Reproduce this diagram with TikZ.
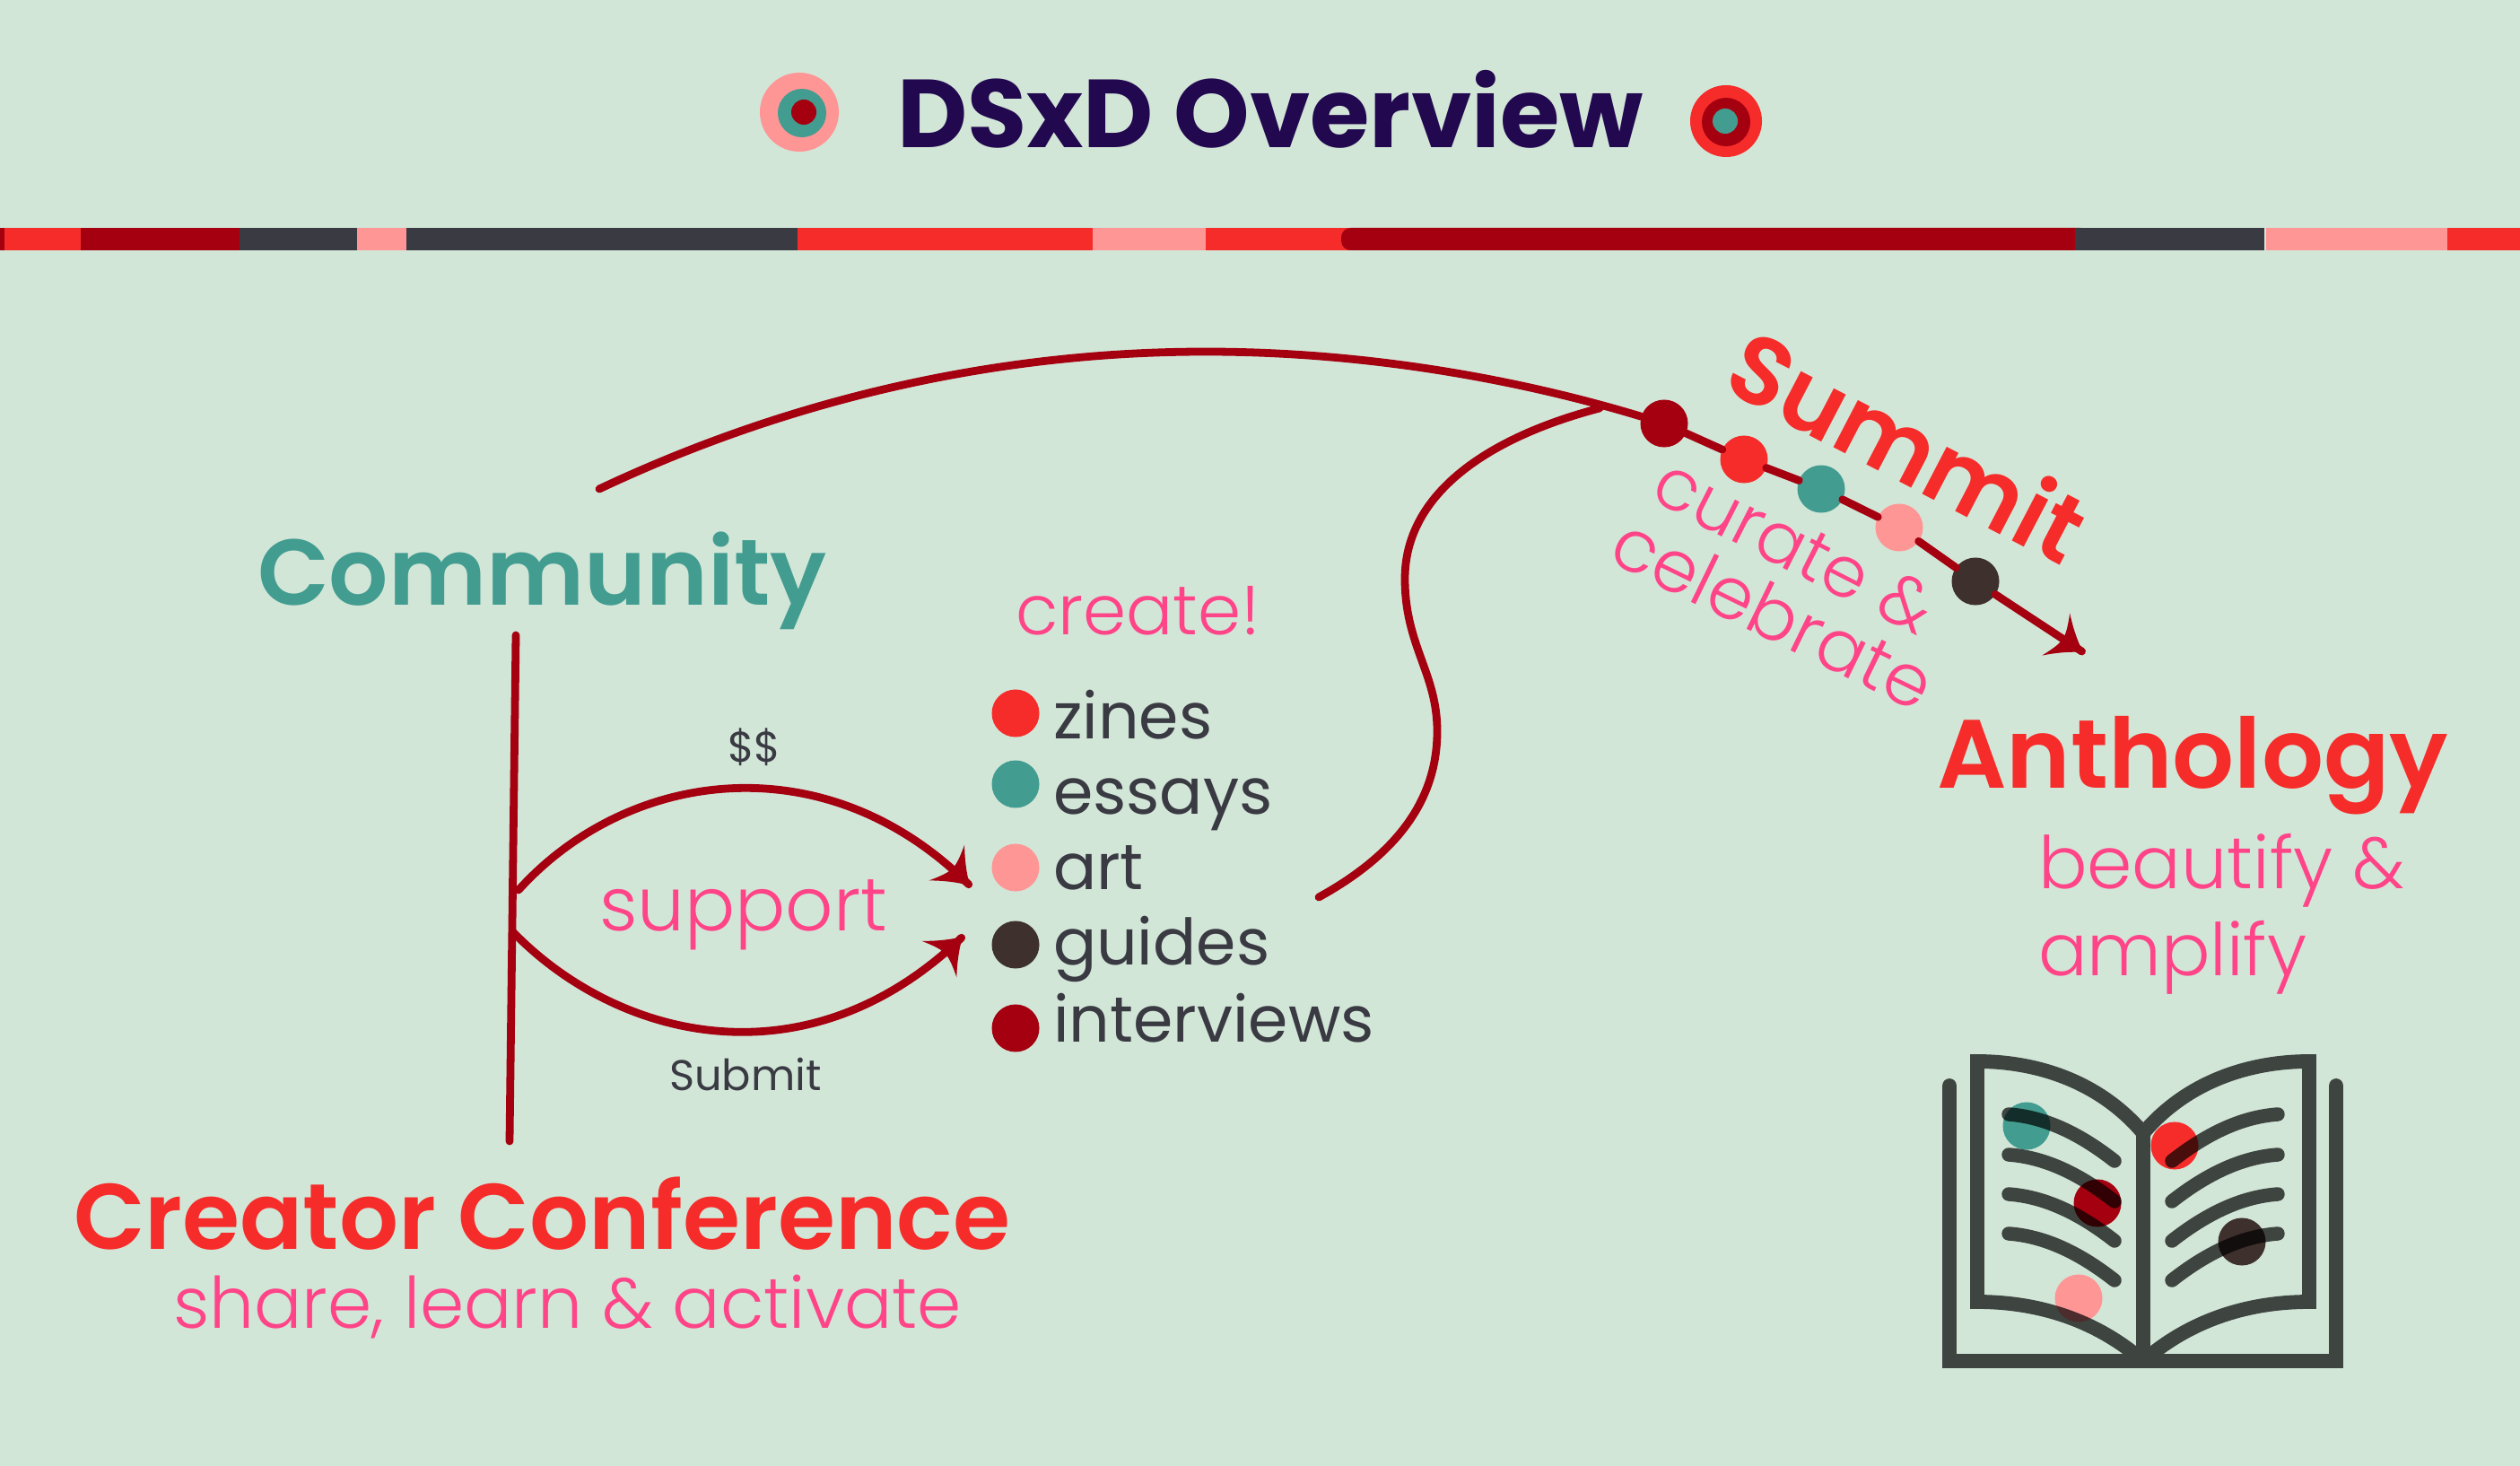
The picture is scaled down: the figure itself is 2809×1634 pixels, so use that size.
\documentclass[tikz,border=0pt]{standalone}
\usepackage{fontspec}
\setmainfont{Poppins}
\newfontfamily\lightfont{Poppins Light}
\newfontfamily\headfont{Poppins SemiBold}
\usepackage{tikz}
\usetikzlibrary{arrows}
\definecolor{clrBack}{HTML}{D2E6D8}
\definecolor{clrRed}{HTML}{F62C2A}
\definecolor{clrWine}{HTML}{A50010}
\definecolor{clrTeal}{HTML}{429D90}
\definecolor{clrPink}{HTML}{FF9696}
\definecolor{clrSlate}{HTML}{3A3A43}
\definecolor{clrBrown}{HTML}{3E302D}
\definecolor{clrRose}{HTML}{FF4488}
\definecolor{clrInk}{HTML}{22084F}
\pgfarrowsdeclare{swoop}{swoop}
{\pgfarrowsleftextend{-10pt}\pgfarrowsrightextend{0.5pt}}
{
 \pgfpathmoveto{\pgfpoint{0.5pt}{0pt}}
 \pgfpathcurveto{\pgfpoint{-3.5pt}{2.3pt}}{\pgfpoint{-7pt}{5.2pt}}{\pgfpoint{-9.8pt}{8pt}}
 \pgfpathcurveto{\pgfpoint{-8.2pt}{4.5pt}}{\pgfpoint{-7.2pt}{2pt}}{\pgfpoint{-7.2pt}{0pt}}
 \pgfpathcurveto{\pgfpoint{-7.2pt}{-2pt}}{\pgfpoint{-8.2pt}{-4.5pt}}{\pgfpoint{-9.8pt}{-8pt}}
 \pgfpathcurveto{\pgfpoint{-7pt}{-5.2pt}}{\pgfpoint{-3.5pt}{-2.3pt}}{\pgfpoint{0.5pt}{0pt}}
 \pgfusepathqfill
}

\begin{document}
\begin{tikzpicture}[x=0.01cm,y=-0.01cm]
\tikzstyle{every node}=[inner sep=0,outer sep=0,anchor=base west]
\tikzstyle{ring}=[circle,anchor=center]
\tikzstyle{dot}=[circle,anchor=center,minimum size=0.53cm]
\tikzstyle{head}[31]=[font=\headfont\fontsize{#1}{36}\selectfont]
\tikzstyle{soft}[23]=[font=\lightfont\fontsize{#1}{30}\selectfont,text=clrRose]
\tikzstyle{item}=[font=\fontsize{20.3}{24}\selectfont,text=clrSlate]
\tikzstyle{tiny}=[font=\fontsize{13.6}{15}\selectfont,text=clrSlate]
\tikzstyle{link}=[draw,color=clrWine,line width=2.5pt,line cap=round]
\tikzstyle{tip}=[-swoop]
\tikzstyle{page}=[draw=black,line width=4.5pt]
\tikzstyle{rule}=[draw=black,line width=4.4pt,line cap=round]

\fill[clrBack] (0,0) rectangle (2809,1634);

% title
\node[ring,minimum size=0.88cm,fill=clrPink] (ringA) at (891,125) {};
\node[ring,minimum size=0.54cm,fill=clrTeal] (ringB) at (894,126) {};
\node[ring,minimum size=0.28cm,fill=clrWine] (ringC) at (896,125) {};
\node[ring,minimum size=0.80cm,fill=clrRed] (ringD) at (1924,135) {};
\node[ring,minimum size=0.54cm,fill=clrWine] (ringE) at (1924,136) {};
\node[ring,minimum size=0.28cm,fill=clrTeal] (ringF) at (1923,135) {};
\node[font=\bfseries\fontsize{30.6}{36}\selectfont,text=clrInk] (title) at (1000,165) {DSxD Overview};

% colour bar
\fill[clrRed] (0,254) rectangle (90,279);
\fill[clrWine] (0,254) rectangle (5,279);
\fill[clrWine] (90,254) rectangle (267,279);
\fill[clrSlate] (267,254) rectangle (398,279);
\fill[clrPink] (398,254) rectangle (453,279);
\fill[clrSlate] (453,254) rectangle (889,279);
\fill[clrRed] (889,254) rectangle (1218,279);
\fill[clrPink] (1218,254) rectangle (1344,279);
\fill[clrRed] (1344,254) rectangle (1510,279);
\fill[clrWine,rounded corners=3pt] (1495,254) rectangle (2330,279);
\fill[clrSlate] (2313,254) rectangle (2524,279);
\fill[clrPink] (2526,254) rectangle (2728,279);
\fill[clrRed] (2728,254) rectangle (2809,279);

% labels
\node[head=29.6,text=clrTeal] (community) at (287,675) {Community};
\node[head=29.5,text=clrRed] (conference) at (82,1392) {Creator Conference};
\node[soft=22.5] (activate) at (193,1480) {share, learn \& activate};
\node[soft=22] (create) at (1132,708) {create!};
\node[soft=23.7] (support) at (668,1037) {support};
\node[tiny] (money) at (811,850) {\$\$};
\node[tiny] (submit) at (746,1215) {Submit};
\node[head=30.4,text=clrRed,rotate=-27.5] (summit) at (1917,433) {Summit};
\node[soft=22.6,rotate=-27] (curate) at (1837,556) {curate \&};
\node[soft,rotate=-26] (celebrate) at (1790,625) {celebrate};
\node[head=30.8,text=clrRed] (anthology) at (2159,878) {Anthology};
\node[soft] (beautify) at (2272,990) {beautify \&};
\node[soft] (amplify) at (2272,1087) {amplify};

% list
\node[dot,fill=clrRed] (zinesDot) at (1132,795) {};
\node[dot,fill=clrTeal] (essaysDot) at (1132,874) {};
\node[dot,fill=clrPink] (artDot) at (1132,967) {};
\node[dot,fill=clrBrown] (guidesDot) at (1132,1053) {};
\node[dot,fill=clrWine] (interviewsDot) at (1132,1146) {};
\node[item] (zines) at (1174,823) {zines};
\node[item] (essays) at (1174,907) {essays};
\node[item] (art) at (1174,991) {art};
\node[item] (guides) at (1174,1075) {guides};
\node[item] (interviews) at (1174,1161) {interviews};

% timeline
\node[dot,fill=clrWine] (stopA) at (1855,472) {};
\node[dot,fill=clrRed] (stopB) at (1944,512) {};
\node[dot,fill=clrTeal] (stopC) at (2030,545) {};
\node[dot,fill=clrPink] (stopD) at (2117,588) {};
\node[dot,fill=clrBrown] (stopE) at (2202,648) {};
\coordinate (lineStart) at (668,545);
\coordinate (lineTop) at (1344,392);
\coordinate (lineEnd) at (2322,727);
\coordinate (joinPt) at (1783,455);
\coordinate (listStart) at (1470,1000);
\coordinate (barTop) at (575,708);
\coordinate (barLow) at (568,1272);
\coordinate (tailA) at (578,992);
\coordinate (headA) at (1081,987);
\coordinate (tailB) at (572,1039);
\coordinate (headB) at (1073,1044);

\draw[link] (lineStart) .. controls (880,445) and (1110,392) .. (lineTop)
 .. controls (1530,392) and (1700,425) .. (stopA);
\path[link]
(stopA) edge (stopB)
(stopB) edge (stopC)
(stopC) edge (stopD)
(stopD) edge (stopE)
(stopE) edge[tip] (lineEnd)
;
\draw[link] (listStart) .. controls (1570,945) and (1602,880) .. (1602,815)
 .. controls (1602,750) and (1566,720) .. (1566,645)
 .. controls (1566,555) and (1650,490) .. (joinPt);
\draw[link] (barTop) -- (barLow);
\draw[link,tip] (tailA) .. controls (700,857) and (920,827) .. (headA);
\draw[link,tip] (tailB) .. controls (690,1160) and (900,1210) .. (headB);

% book dots under the ink
\node[dot,fill=clrTeal] (bookA) at (2259,1255) {};
\node[dot,fill=clrRed] (bookB) at (2424,1277) {};
\node[dot,fill=clrWine] (bookC) at (2338,1341) {};
\node[dot,fill=clrBrown] (bookD) at (2499,1384) {};
\node[dot,fill=clrPink] (bookE) at (2317,1447) {};

\begin{scope}[transparency group,opacity=0.7]
\draw[page,line cap=round,line join=miter] (2173,1210) -- (2173,1517) -- (2604,1517) -- (2604,1210);
\draw[page,line join=miter] (2389,1517) -- (2389,1263)
 .. controls (2340,1205) and (2270,1183) .. (2204,1183) -- (2204,1451)
 .. controls (2270,1451) and (2335,1470) .. (2389,1517);
\draw[page,line join=miter] (2389,1263)
 .. controls (2438,1205) and (2508,1183) .. (2574,1183) -- (2574,1451)
 .. controls (2508,1451) and (2443,1470) .. (2389,1517);
\draw[rule] (2239,1242) .. controls +(42,3) and +(-37,-29) .. ++(118,52);
\draw[rule] (2239,1287) .. controls +(42,3) and +(-37,-29) .. ++(118,52);
\draw[rule] (2239,1331) .. controls +(42,3) and +(-37,-29) .. ++(118,52);
\draw[rule] (2239,1375) .. controls +(42,3) and +(-37,-29) .. ++(118,52);
\draw[rule] (2539,1242) .. controls +(-42,3) and +(37,-29) .. ++(-118,52);
\draw[rule] (2539,1287) .. controls +(-42,3) and +(37,-29) .. ++(-118,52);
\draw[rule] (2539,1331) .. controls +(-42,3) and +(37,-29) .. ++(-118,52);
\draw[rule] (2539,1375) .. controls +(-42,3) and +(37,-29) .. ++(-118,52);
\end{scope}
\end{tikzpicture}
\end{document}
